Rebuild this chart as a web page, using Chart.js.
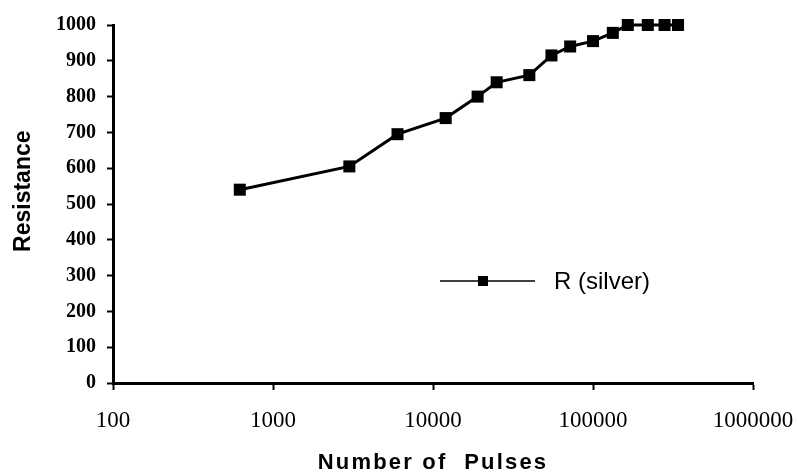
<!DOCTYPE html>
<html>
<head>
<meta charset="utf-8">
<script src="https://cdn.jsdelivr.net/npm/chart.js@4/dist/chart.umd.min.js"></script>
<style>
  html, body { margin: 0; padding: 0; background: #fff; }
  #wrap { width: 798px; height: 476px; }
</style>
</head>
<body>
<div id="wrap"><canvas id="c" width="798" height="476"></canvas></div>
<script>
const pulses = [620, 3000, 6000, 12000, 19000, 25000, 40000, 55000, 72000, 100000, 133000, 165000, 220000, 280000, 340000];
const resistance = [540, 605, 695, 740, 800, 840, 860, 915, 940, 955, 978, 1000, 1000, 1000, 1000];
const xTicks = [100, 1000, 10000, 100000, 1000000];
const seriesName = 'R (silver)';
const xTitle = 'Number of  Pulses';
const yTitle = 'Resistance';

const points = pulses.map((p, i) => ({ x: p, y: resistance[i] }));

const legendPlugin = {
  id: 'insideLegend',
  afterLayout(chart) {
    const sx = chart.scales.x;
    if (!sx._lsWrapped) {
      const orig = sx.drawTitle.bind(sx);
      sx.drawTitle = function (...args) {
        const ctx = this.ctx;
        const prev = ctx.letterSpacing;
        ctx.letterSpacing = '2.2px';
        orig(...args);
        ctx.letterSpacing = prev || '0px';
      };
      sx._lsWrapped = true;
    }
  },
  afterDraw(chart) {
    const ctx = chart.ctx;
    const ds = chart.data.datasets[0];
    const y = 281;
    ctx.save();
    ctx.strokeStyle = '#000';
    ctx.lineWidth = 1.5;
    ctx.beginPath();
    ctx.moveTo(440, y);
    ctx.lineTo(535, y);
    ctx.stroke();
    ctx.fillStyle = '#000';
    ctx.fillRect(483 - 5, y - 5, 10, 10);
    ctx.font = '24px "Liberation Sans", Arial, sans-serif';
    ctx.textBaseline = 'middle';
    ctx.textAlign = 'left';
    ctx.fillText(ds.label, 554, y + 1);
    ctx.restore();
  }
};

new Chart(document.getElementById('c'), {
  type: 'line',
  data: {
    datasets: [{
      label: seriesName,
      data: points,
      borderColor: '#000',
      backgroundColor: '#000',
      borderWidth: 3,
      pointStyle: 'rect',
      pointRadius: 8.5,
      pointBorderWidth: 0,
      pointBackgroundColor: '#000',
      tension: 0,
      clip: false
    }]
  },
  options: {
    responsive: false,
    animation: false,
    events: [],
    layout: { padding: { top: 25, right: 45, left: 0, bottom: 0 } },
    plugins: { legend: { display: false }, tooltip: { enabled: false } },
    scales: {
      x: {
        type: 'logarithmic',
        min: 100,
        max: 1000000,
        afterBuildTicks(scale) { scale.ticks = xTicks.map(v => ({ value: v })); },
        afterFit(scale) { scale.height = 93; scale.paddingLeft = 0; scale.paddingRight = 0; },
        border: { display: true, color: '#000', width: 3 },
        grid: { display: true, drawOnChartArea: false, drawTicks: true, tickLength: 7, tickWidth: 2, tickColor: '#000' },
        ticks: {
          autoSkip: false,
          maxRotation: 0,
          padding: 17,
          color: '#000',
          font: { family: '"Liberation Serif", "Times New Roman", serif', size: 23 },
          callback: (v) => String(v)
        },
        title: {
          display: true,
          text: xTitle,
          color: '#000',
          font: { family: '"Liberation Sans", Arial, sans-serif', size: 22, weight: 'bold' },
          padding: { top: 0, bottom: 0 }
        }
      },
      y: {
        min: 0,
        max: 1000,
        afterFit(scale) { scale.width = 113; scale.paddingTop = 0; scale.paddingBottom = 0; },
        border: { display: true, color: '#000', width: 3 },
        grid: { display: true, drawOnChartArea: false, drawTicks: true, tickLength: 6, tickWidth: 2, tickColor: '#000' },
        ticks: {
          stepSize: 100,
          padding: 11,
          color: '#000',
          font: { family: '"Liberation Serif", "Times New Roman", serif', size: 20, weight: 'bold' },
          callback: (v) => String(v)
        },
        title: {
          display: true,
          text: '    ' + yTitle,
          color: '#000',
          font: { family: '"Liberation Sans", Arial, sans-serif', size: 23, weight: 'bold' },
          padding: { top: 10, bottom: 0 }
        }
      }
    }
  },
  plugins: [legendPlugin]
});
</script>
</body>
</html>
